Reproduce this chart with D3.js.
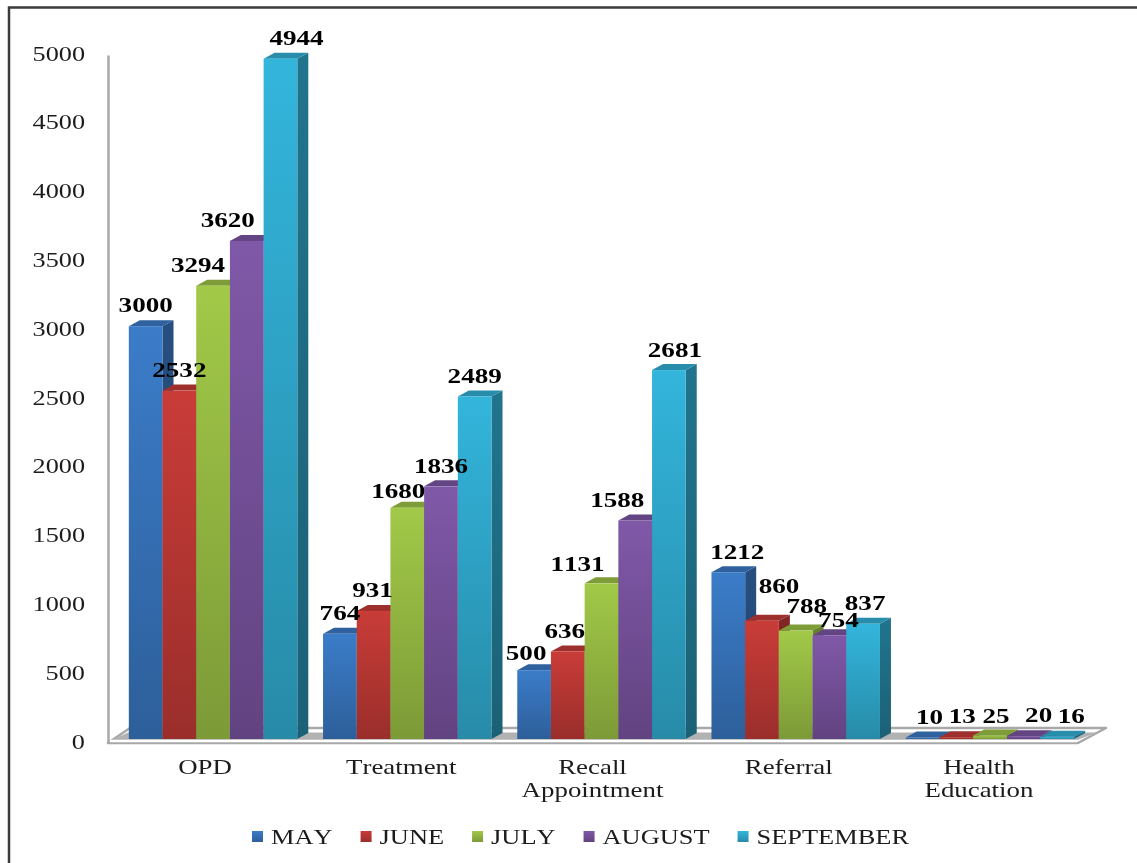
<!DOCTYPE html>
<html><head><meta charset="utf-8">
<script src="https://cdn.jsdelivr.net/npm/d3@7"></script>
<style>html,body{margin:0;padding:0;background:#fff}svg{display:block}text{font-family:"Liberation Serif",serif;fill:#1a1a1a;font-kerning:none}</style>
</head><body><div id="chart"></div>
<script>
const categories = ["OPD","Treatment","Recall Appointment","Referral","Health Education"];
const seriesNames = ["MAY","JUNE","JULY","AUGUST","SEPTEMBER"];
const may = [3000,764,500,1212,10];
const june = [2532,931,636,860,13];
const july = [3294,1680,1131,788,25];
const august = [3620,1836,1588,754,20];
const september = [4944,2489,2681,837,16];
const seriesValues = [may,june,july,august,september];
const colors = ["#3b7cc9","#c93c38","#a2c948","#8058a8","#33b5dc"];
const yTicks = [0,500,1000,1500,2000,2500,3000,3500,4000,4500,5000];
// manual label nudges, per series then category (the source moved labels by hand)
const labelDx = [[0,0,-8,9,7],[0,-1,-3,17,6],[-15,-9,-24,11,6],[-19,0,-18,9,15],[16,0,6,2,14]];
const labelDy = [[0,0,4,1,0],[0,0,1,-14,0],[0,4,2,-4,1],[0,1,1,6,0],[0,0,1,0,0]];
const categoryNudge = [-1,1,-2,0,-4];

const W=1137,H=863,depthX=11,depthY=6;
const svg=d3.select("#chart").append("svg").attr("width",W).attr("height",H);
const defs=svg.append("defs");
defs.append("filter").attr("id","soft").attr("x","-5%").attr("y","-5%").attr("width","110%").attr("height","110%")
  .append("feGaussianBlur").attr("stdDeviation",0.45);
colors.forEach((c,i)=>{
  const g=defs.append("linearGradient").attr("id","g"+i).attr("x1",0).attr("y1",0).attr("x2",0).attr("y2",1);
  g.append("stop").attr("offset",0).attr("stop-color",c);
  g.append("stop").attr("offset",1).attr("stop-color",d3.rgb(c).darker(0.75));
  const s=defs.append("linearGradient").attr("id","s"+i).attr("x1",0).attr("y1",0).attr("x2",0).attr("y2",1);
  s.append("stop").attr("offset",0).attr("stop-color",d3.rgb(c).darker(1.25));
  s.append("stop").attr("offset",1).attr("stop-color",d3.rgb(c).darker(1.75));
});

// frame
svg.append("path").attr("d","M9,863V7.5H1137").attr("fill","none").attr("stroke","#3c3c3c").attr("stroke-width",2.5);

const x0=d3.scaleBand().domain(categories).range([116,1087]).paddingInner(0.1325).paddingOuter(0.066);
const x1=d3.scaleBand().domain(seriesNames).range([0,x0.bandwidth()]);
const y=d3.scaleLinear().domain([0,5000]).range([739,51]);
const yAxisScale=d3.scaleLinear().domain([0,5000]).range([743,55]);

// floor
const floor=svg.append("g");
floor.append("path").attr("d","M108,743H1078L1106,728H130Z").attr("fill","#fff").attr("stroke","#a8a8a8").attr("stroke-width",2.5).attr("stroke-linejoin","round");
floor.append("path").attr("d","M111,740.5H1076L1097,732.5H128Z").attr("fill","#b2b2b2");
floor.append("path").attr("d","M110,741H1077").attr("stroke","#fff").attr("stroke-width",2.5);

// y axis
const yAxis=svg.append("g").attr("transform","translate(108,0)")
  .call(d3.axisLeft(yAxisScale).tickValues(yTicks).tickSize(0).tickPadding(0).tickFormat(d3.format("d")));
yAxis.select(".domain").attr("stroke","#a8a8a8").attr("stroke-width",2.5);
yAxis.selectAll("text").attr("text-anchor","end").attr("font-size",21).attr("dy",0)
  .attr("transform",`translate(-23,5)scale(1.25,1)`).attr("x",0).attr("filter","url(#soft)");

// bars
const bars=svg.append("g");
seriesNames.forEach((name,s)=>{
  const g=bars.append("g");
  const data=categories.map((c,i)=>({c,i,v:seriesValues[s][i]}));
  const bx=d=>x0(d.c)+x1(name), w=x1.bandwidth();
  g.selectAll("path.side").data(data).join("path").attr("class","side")
    .attr("d",d=>`M${bx(d)+w},${y(d.v)}l${depthX},${-depthY}V${y(0)-depthY}l${-depthX},${depthY}Z`)
    .attr("fill",`url(#s${s})`);
  g.selectAll("path.top").data(data).join("path").attr("class","top")
    .attr("d",d=>`M${bx(d)},${y(d.v)}l${depthX},${-depthY}h${w}l${-depthX},${depthY}Z`)
    .attr("fill",d3.rgb(colors[s]).darker(0.7));
  g.selectAll("rect").data(data).join("rect")
    .attr("x",bx).attr("y",d=>y(d.v)).attr("width",w).attr("height",d=>y(0)-y(d.v))
    .attr("fill",`url(#g${s})`);
});

// value labels
const labels=svg.append("g").attr("filter","url(#soft)");
seriesNames.forEach((name,s)=>{
  labels.append("g").selectAll("text").data(categories.map((c,i)=>({c,i,v:seriesValues[s][i]}))).join("text")
    .attr("text-anchor","middle").attr("font-size",21).attr("font-weight","bold").style("fill","#000")
    .attr("transform",d=>`translate(${x0(d.c)+x1(name)+x1.bandwidth()/2+labelDx[s][d.i]},${y(d.v)-14+labelDy[s][d.i]})scale(1.29,1)`)
    .text(d=>d.v);
});

// category axis
const xAxis=svg.append("g").attr("transform","translate(-7,743)")
  .call(d3.axisBottom(x0).tickSize(0).tickPadding(0));
xAxis.select(".domain").remove();
xAxis.selectAll("text").each(function(d){
  const t=d3.select(this).text(null).attr("y",null).attr("dy",null).attr("font-size",21)
    .attr("text-anchor","middle").attr("filter","url(#soft)")
    .attr("transform",`translate(${categoryNudge[categories.indexOf(d)]},31)scale(1.28,1)`);
  const words=d==="Recall Appointment"||d==="Health Education"?d.split(" "):[d];
  words.forEach((w,i)=>t.append("tspan").attr("x",0).attr("y",i*23).text(w));
});

// legend
const legend=svg.append("g");
let lx=252;
seriesNames.forEach((name,s)=>{
  legend.append("rect").attr("x",lx).attr("y",831).attr("width",11).attr("height",11).attr("fill",`url(#g${s})`);
  const t=legend.append("text").attr("font-size",22).attr("filter","url(#soft)").attr("transform",`translate(${lx+19},844)scale(1.2,1)`).text(name);
  lx+=19+t.node().getComputedTextLength()*1.2+28;
});
</script></body></html>
